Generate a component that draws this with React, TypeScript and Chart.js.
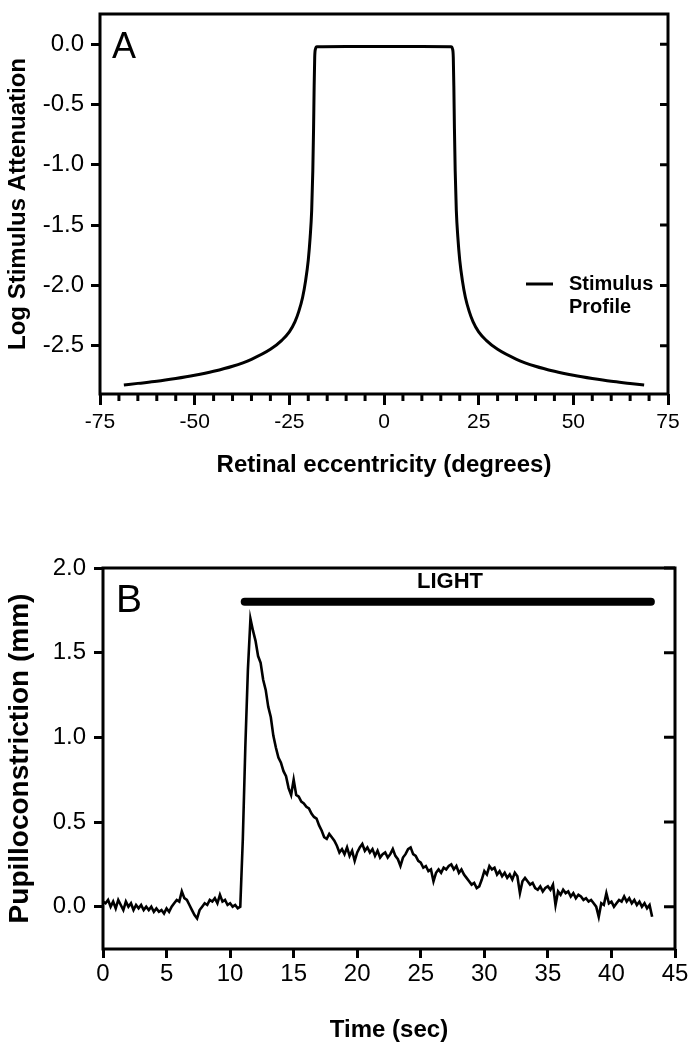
import React, { useEffect, useRef } from "react";
import { Chart, registerables } from "chart.js";

Chart.register(...registerables);

const SANS = "'Liberation Sans', Arial, Helvetica, sans-serif";

// ---------------- Panel A: stimulus profile ----------------
const eccentricityDeg = [
  -68.7, -65, -60, -55, -50, -45, -40, -35, -30, -27, -25, -23.5, -22.5, -21.5, -20.7, -20, -19.5, -19.1,
  -18.8, -18.6, -18.45, -18.3, -18.1, -17.7, -10, 0, 10, 17.7, 18.1, 18.3, 18.45, 18.6, 18.8, 19.1, 19.5,
  20, 20.7, 21.5, 22.5, 23.5, 25, 27, 30, 35, 40, 45, 50, 55, 60, 65, 68.7,
];
const logAttenuation = [
  -2.825, -2.812, -2.795, -2.772, -2.745, -2.712, -2.67, -2.612, -2.53, -2.455, -2.385, -2.3, -2.215, -2.1,
  -1.96, -1.79, -1.6, -1.38, -1.05, -0.7, -0.36, -0.11, -0.04, -0.022, -0.02, -0.02, -0.02, -0.022, -0.04,
  -0.11, -0.36, -0.7, -1.05, -1.38, -1.6, -1.79, -1.96, -2.1, -2.215, -2.3, -2.385, -2.455, -2.53, -2.612,
  -2.67, -2.712, -2.745, -2.772, -2.795, -2.812, -2.825,
];
const eccentricityMinorTicks = [
  -70, -65, -60, -55, -45, -40, -35, -30, -20, -15, -10, -5, 5, 10, 15, 20, 30, 35, 40, 45, 55, 60, 65, 70,
];
const panelALetter = "A";
const legendLabelLines = ["Stimulus", "Profile"];
const titleAX = "Retinal eccentricity (degrees)";
const titleAY = "Log Stimulus Attenuation";

// ---------------- Panel B: pupil response ----------------
const SAMPLE_STEP_SEC = 0.2;
const constrictionMm = [
  // 0.0 - 1.8
  0.03, 0.02, 0.04, 0.0, 0.03, -0.01, 0.04, 0.01, -0.02, 0.03,
  // 2.0 - 3.8
  0.0, 0.02, -0.02, 0.01, -0.01, 0.01, -0.02, 0.0, -0.02, 0.0,
  // 4.0 - 5.8
  -0.03, -0.01, -0.03, -0.02, -0.04, -0.01, -0.03, 0.0, 0.02, 0.04,
  // 6.0 - 7.8
  0.03, 0.09, 0.05, 0.04, 0.01, -0.02, -0.05, -0.07, -0.02, 0.0,
  // 8.0 - 9.8
  0.02, 0.01, 0.04, 0.03, 0.05, 0.02, 0.07, 0.03, 0.04, 0.01,
  // 10.0 - 11.8
  0.02, 0.0, 0.01, -0.01, 0.0, 0.4, 0.95, 1.4, 1.7, 1.63,
  // 12.0 - 13.8
  1.57, 1.48, 1.44, 1.34, 1.28, 1.18, 1.12, 1.01, 0.94, 0.88,
  // 14.0 - 15.8
  0.85, 0.8, 0.77, 0.7, 0.66, 0.75, 0.66, 0.65, 0.62, 0.61,
  // 16.0 - 17.8
  0.59, 0.58, 0.55, 0.53, 0.52, 0.48, 0.45, 0.41, 0.4, 0.43,
  // 18.0 - 19.8
  0.41, 0.39, 0.36, 0.32, 0.34, 0.31, 0.35, 0.3, 0.33, 0.27,
  // 20.0 - 21.8
  0.32, 0.35, 0.37, 0.33, 0.35, 0.32, 0.34, 0.3, 0.33, 0.29,
  // 22.0 - 23.8
  0.31, 0.32, 0.29, 0.31, 0.34, 0.3, 0.28, 0.24, 0.29, 0.31,
  // 24.0 - 25.8
  0.34, 0.35, 0.31, 0.3, 0.27, 0.26, 0.23, 0.24, 0.21, 0.22,
  // 26.0 - 27.8
  0.15, 0.2, 0.22, 0.2, 0.23, 0.22, 0.24, 0.25, 0.22, 0.24,
  // 28.0 - 29.8
  0.2, 0.22, 0.19, 0.17, 0.15, 0.13, 0.14, 0.11, 0.12, 0.16,
  // 30.0 - 31.8
  0.21, 0.19, 0.24, 0.22, 0.23, 0.19, 0.21, 0.18, 0.2, 0.17,
  // 32.0 - 33.8
  0.19, 0.16, 0.2, 0.18, 0.08, 0.15, 0.17, 0.15, 0.13, 0.14,
  // 34.0 - 35.8
  0.11, 0.1, 0.12, 0.09, 0.11, 0.12, 0.1, 0.13, 0.01, 0.09,
  // 36.0 - 37.8
  0.07, 0.1, 0.08, 0.09, 0.06, 0.08, 0.05, 0.07, 0.06, 0.04,
  // 38.0 - 39.8
  0.05, 0.03, 0.04, 0.02, 0.0, -0.06, 0.02, 0.01, 0.08, 0.02,
  // 40.0 - 41.8
  0.03, 0.0, 0.02, 0.04, 0.03, 0.06, 0.03, 0.05, 0.02, 0.04,
  // 42.0 - 43.2
  0.01, 0.03, 0.0, 0.02, -0.01, 0.01, -0.06,
];
const lightOnSec = 11.15;
const lightOffSec = 43.1;
const lightLevelMm = 1.8;
const lightLabel = "LIGHT";
const lightLabelSec = 27.3;
const lightLabelMm = 1.92;
const panelBLetter = "B";
const titleBX = "Time (sec)";
const titleBY = "Pupilloconstriction (mm)";

type DecorCfg = {
  letter: string;
  letterSize: number;
  letterDx: number;
  letterDy: number;
  rightTick: number;
  minorX?: number[];
  minorLen?: number;
  extra?: (chart: any, ctx: CanvasRenderingContext2D) => void;
};

function makeDecor(cfg: DecorCfg) {
  return {
    id: "decor" + cfg.letter,
    afterDatasetsDraw(chart: any) {
      const { ctx, chartArea: a } = chart;
      const xs = chart.scales.x;
      const ys = chart.scales.y;
      ctx.save();
      ctx.strokeStyle = "#000";
      ctx.fillStyle = "#000";
      ctx.lineWidth = 3;
      ctx.lineJoin = "miter";
      ctx.lineCap = "butt";
      ctx.strokeRect(a.left, a.top, a.right - a.left, a.bottom - a.top);
      ctx.beginPath();
      ys.ticks.forEach((t: any) => {
        const py = ys.getPixelForValue(t.value);
        ctx.moveTo(a.right - cfg.rightTick, py);
        ctx.lineTo(a.right, py);
      });
      (cfg.minorX || []).forEach((v) => {
        const px = xs.getPixelForValue(v);
        ctx.moveTo(px, a.bottom);
        ctx.lineTo(px, a.bottom + (cfg.minorLen || 7));
      });
      ctx.stroke();
      ctx.font = `${cfg.letterSize}px ${SANS}`;
      ctx.textAlign = "left";
      ctx.textBaseline = "alphabetic";
      ctx.fillText(cfg.letter, a.left + cfg.letterDx, a.top + cfg.letterDy);
      if (cfg.extra) cfg.extra(chart, ctx);
      ctx.restore();
    },
  };
}

function axisCommon(tickSize: number, pad: number, tickLen: number) {
  return {
    type: "linear" as const,
    ticks: {
      font: { family: SANS, size: tickSize },
      color: "#000",
      padding: pad,
      includeBounds: false,
      maxRotation: 0,
    },
    grid: {
      drawOnChartArea: false,
      drawTicks: true,
      tickLength: tickLen,
      tickWidth: 3,
      tickColor: "#000",
    },
    border: { display: false },
  };
}

function titleOpts(text: string, size: number, pad: { top: number; bottom: number }) {
  return {
    display: true,
    text,
    color: "#000",
    font: { family: SANS, size, weight: "bold" as const },
    padding: pad,
  };
}

function fixSize(dim: "width" | "height", value: number) {
  return (s: any) => {
    s[dim] = value;
    s.paddingTop = 0;
    s.paddingBottom = 0;
    s.paddingLeft = 0;
    s.paddingRight = 0;
  };
}

export default function App() {
  const refA = useRef<HTMLCanvasElement>(null);
  const refB = useRef<HTMLCanvasElement>(null);

  useEffect(() => {
    const ax = axisCommon(21, 5, 11);
    const ay = axisCommon(24, 7, 9);
    const chartA = new Chart(refA.current as HTMLCanvasElement, {
      type: "line",
      data: {
        datasets: [
          {
            label: "Stimulus Profile",
            data: eccentricityDeg.map((x, i) => ({ x, y: logAttenuation[i] })),
            borderColor: "#000",
            borderWidth: 3,
            pointRadius: 0,
            cubicInterpolationMode: "monotone",
            fill: false,
          },
        ],
      },
      options: {
        responsive: false,
        animation: false,
        devicePixelRatio: 1,
        layout: { padding: { top: 14, right: 30, bottom: 40, left: 0 } },
        plugins: { legend: { display: false }, tooltip: { enabled: false } },
        scales: {
          x: {
            ...ax,
            min: -75,
            max: 75,
            ticks: { ...ax.ticks, stepSize: 25, callback: (v: any) => String(v) },
            title: titleOpts(titleAX, 24, { top: 0, bottom: 0 }),
            afterFit: fixSize("height", 86),
          },
          y: {
            ...ay,
            min: -2.9,
            max: 0.25,
            ticks: { ...ay.ticks, stepSize: 0.5, callback: (v: any) => Number(v).toFixed(1) },
            title: titleOpts(titleAY, 24, { top: 4, bottom: 0 }),
            afterFit: fixSize("width", 100),
          },
        },
      } as any,
      plugins: [
        makeDecor({
          letter: panelALetter,
          letterSize: 36,
          letterDx: 12,
          letterDy: 44,
          rightTick: 8,
          minorX: eccentricityMinorTicks,
          minorLen: 7,
          extra: (chart, ctx) => {
            const a = chart.chartArea;
            ctx.lineWidth = 3;
            ctx.beginPath();
            ctx.moveTo(a.right - 142, a.top + 270);
            ctx.lineTo(a.right - 115, a.top + 270);
            ctx.stroke();
            ctx.font = `bold 20px ${SANS}`;
            ctx.textBaseline = "middle";
            ctx.textAlign = "left";
            legendLabelLines.forEach((t, i) => ctx.fillText(t, a.right - 99, a.top + 270 + i * 23));
          },
        }),
      ],
    });

    const bx = axisCommon(24, 2, 9);
    const by = axisCommon(24, 8, 9);
    const chartB = new Chart(refB.current as HTMLCanvasElement, {
      type: "line",
      data: {
        datasets: [
          {
            label: "Pupil",
            data: constrictionMm.map((y, i) => ({ x: Math.round(i * SAMPLE_STEP_SEC * 10) / 10, y })),
            borderColor: "#000",
            borderWidth: 2.6,
            pointRadius: 0,
            tension: 0,
            fill: false,
          },
          {
            label: lightLabel,
            data: [
              { x: lightOnSec, y: lightLevelMm },
              { x: lightOffSec, y: lightLevelMm },
            ],
            borderColor: "#000",
            borderWidth: 8,
            borderCapStyle: "round",
            pointRadius: 0,
            fill: false,
          },
        ],
      },
      options: {
        responsive: false,
        animation: false,
        devicePixelRatio: 1,
        layout: { padding: { top: 48, right: 23, bottom: 5, left: 0 } },
        plugins: { legend: { display: false }, tooltip: { enabled: false } },
        scales: {
          x: {
            ...bx,
            min: 0,
            max: 45,
            ticks: { ...bx.ticks, stepSize: 5, callback: (v: any) => String(v) },
            title: titleOpts(titleBX, 24, { top: 0, bottom: 0 }),
            afterFit: fixSize("height", 96),
          },
          y: {
            ...by,
            min: -0.25,
            max: 2.0,
            ticks: { ...by.ticks, stepSize: 0.5, callback: (v: any) => Number(v).toFixed(1) },
            title: titleOpts(titleBY, 28, { top: 3, bottom: 0 }),
            afterFit: fixSize("width", 103),
          },
        },
      } as any,
      plugins: [
        makeDecor({
          letter: panelBLetter,
          letterSize: 39,
          letterDx: 13,
          letterDy: 44,
          rightTick: 11,
          extra: (chart, ctx) => {
            const xs = chart.scales.x;
            const ys = chart.scales.y;
            ctx.font = `bold 22px ${SANS}`;
            ctx.textAlign = "center";
            ctx.textBaseline = "middle";
            ctx.fillText(lightLabel, xs.getPixelForValue(lightLabelSec), ys.getPixelForValue(lightLabelMm));
          },
        }),
      ],
    });

    return () => {
      chartA.destroy();
      chartB.destroy();
    };
  }, []);

  return (
    <div style={{ position: "absolute", left: 0, top: 0, width: 698, height: 1050, background: "#fff" }}>
      <canvas ref={refA} width={698} height={520} style={{ position: "absolute", left: 0, top: 0 }} />
      <canvas ref={refB} width={698} height={530} style={{ position: "absolute", left: 0, top: 520 }} />
    </div>
  );
}
